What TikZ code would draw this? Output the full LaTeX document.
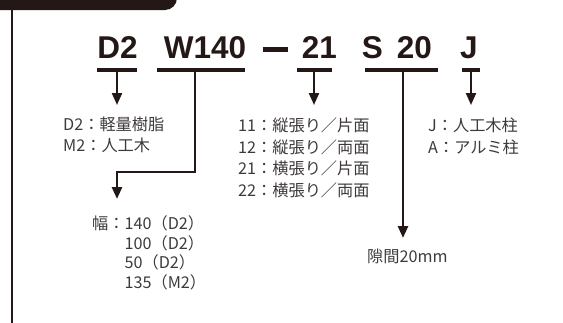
\documentclass[tikz,border=0pt]{standalone}
\usepackage{fontspec}
\setmainfont{Liberation Sans}
\newfontfamily\jp{Noto Sans CJK JP}
\usetikzlibrary{arrows.meta}
\definecolor{ink}{HTML}{231815}
\definecolor{txt}{HTML}{3E3A39}
\begin{document}
\begin{tikzpicture}[x=1pt,y=-1pt,
  code/.style={font=\fontsize{31.5}{32}\selectfont\bfseries, text=ink, inner sep=0pt, anchor=base},
  ul/.style={line width=3.2pt, draw=ink},
  arr/.style={line width=2.2pt, draw=ink, -{Triangle[length=12pt,width=10pt]}},
  lbl/.style={font=\jp\fontsize{16.2}{20}\selectfont, text=txt, inner sep=0pt, anchor=base west}]
\useasboundingbox (0,0) rectangle (563,322);
% top tab and frame line
\fill[ink, rounded corners=12pt] (-20,-20) rectangle (177,10);
\draw[ink, line width=2pt] (12,8) -- (12,330);
% code
\node[code] (cD2) at (117.5,58) {D2};
\node[code] (cW) at (205,58) {W140};
\coordinate (dashL) at (263,49.5);
\coordinate (dashR) at (288,49.5);
\draw[ink, line width=4.5pt] (dashL) -- (dashR);
\node[code] (c21) at (319.5,58) {21};
\node[code] (cS) at (372.5,58) {S};
\node[code] (c20) at (414.5,58) {20};
\node[code] (cJ) at (469,58) {J};
% underlines
\coordinate (uD2a) at (97,70); \coordinate (uD2b) at (137,70);
\coordinate (uWa) at (157,70); \coordinate (uWb) at (245,70);
\coordinate (u21a) at (297,70); \coordinate (u21b) at (332,70);
\coordinate (uSa) at (365,70); \coordinate (uSb) at (438,70);
\coordinate (uJa) at (462,70); \coordinate (uJb) at (480,70);
\draw[ul] (uD2a) -- (uD2b);
\draw[ul] (uWa) -- (uWb);
\draw[ul] (u21a) -- (u21b);
\draw[ul] (uSa) -- (uSb);
\draw[ul] (uJa) -- (uJb);
% arrow coordinates
\coordinate (aD2) at (117,70); \coordinate (tD2) at (117,105);
\coordinate (aW) at (195,70); \coordinate (bW) at (195,172); \coordinate (cWk) at (117,172); \coordinate (tW) at (117,199);
\coordinate (a21) at (314,70); \coordinate (t21) at (314,105);
\coordinate (aS) at (403,70); \coordinate (tS) at (403,238);
\coordinate (aJ) at (471,70); \coordinate (tJ) at (471,105);
\draw[arr] (aD2) -- (tD2);
\draw[arr, line width=2.6pt] (aW) -- (bW) -- (cWk) -- (tW);
\draw[arr] (a21) -- (t21);
\draw[arr, line width=2.6pt] (aS) -- (tS);
\draw[arr] (aJ) -- (tJ);
% labels
\node[lbl] (lD2a) at (63,130) {D2：軽量樹脂};
\node[lbl] (lD2b) at (63,151) {M2：人工木};
\node[lbl] (l21a) at (238,131) {11：縦張り／片面};
\node[lbl] (l21b) at (238,153) {12：縦張り／両面};
\node[lbl] (l21c) at (238,174) {21：横張り／片面};
\node[lbl] (l21d) at (238,196) {22：横張り／両面};
\node[lbl] (lJa) at (428,131) {J：人工木柱};
\node[lbl] (lJb) at (428,153) {A：アルミ柱};
\node[lbl] (lWa) at (92,229) {幅：140（D2）};
\node[lbl] (lWb) at (92,249) {\phantom{幅：}100（D2）};
\node[lbl] (lWc) at (92,268) {\phantom{幅：}50（D2）};
\node[lbl] (lWd) at (92,288) {\phantom{幅：}135（M2）};
\node[lbl] (lS) at (367,262) {隙間20mm};
\end{tikzpicture}
\end{document}
